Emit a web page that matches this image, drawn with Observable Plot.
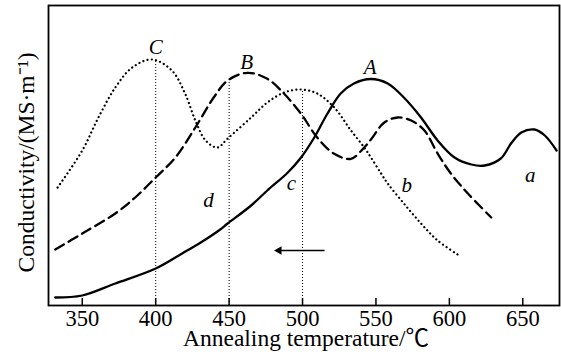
<!DOCTYPE html>
<html>
<head>
<meta charset="utf-8">
<script src="https://cdn.jsdelivr.net/npm/d3@7"></script>
<script src="https://cdn.jsdelivr.net/npm/@observablehq/plot@0.6"></script>
<style>
  html, body { margin: 0; padding: 0; background: #fff; }
</style>
</head>
<body>
<div id="chart"></div>
<script>
// Curve a (solid): temperature (°C) and conductivity (arbitrary units)
const aTemp = [331.6, 350, 372.5, 400, 418, 430.7, 443, 449, 465, 476, 490, 499, 508, 517, 526, 535, 546.6, 558, 569, 580.7, 592, 603.5, 615, 624, 635, 642, 649, 658, 665, 673];
const aVal  = [8, 10, 22, 37, 52, 63, 75, 82, 100, 115, 133, 148, 168, 192, 212, 222, 226.5, 222, 208, 188, 165, 148, 141, 140, 147, 162, 173, 176, 170, 155];

// Curve b (dashed)
const bTemp = [331.6, 350, 372.5, 386, 400, 413.4, 427, 439.5, 449, 462.5, 476, 487.5, 499, 510, 521.6, 533, 542, 546.6, 555.7, 564.8, 574, 583, 592, 601, 612.6, 628.5];
const bVal  = [56, 72, 92, 108, 128, 148, 178, 208, 225, 232.7, 226.7, 211.7, 191.7, 168, 151.7, 146.7, 158, 166, 183, 188, 185, 175, 152, 132, 112, 88];

// Curve c (dotted)
const cTemp = [333.2, 350, 361, 372.5, 384, 397.5, 411, 420, 427, 434, 442, 449, 465, 476, 487.5, 499, 510, 521.6, 533, 542, 546.6, 553.5, 558, 569, 580.7, 592, 605.7];
const cVal  = [118, 155, 188, 218, 238, 246, 235, 212, 185, 165, 158, 167, 188, 203, 213, 216, 212, 198, 175, 158, 148, 132, 122, 102, 82, 65, 51];

// Reference verticals (temperature, top value)
const vTemp = [400, 450, 500];
const vTop  = [246, 225, 216];

// Italic point labels
const labText = ["C", "B", "A", "a", "b", "c", "d"];
const labTemp = [400, 462, 546, 655, 571, 492.5, 436];
const labVal  = [258, 243, 238, 130, 120, 122, 105];

// Arrow (from, to, level)
const arrowFrom = 515, arrowTo = 482, arrowLevel = 55;

const xTicks = [350, 400, 450, 500, 550, 600, 650];
const xLabel = "Annealing temperature/℃";
const yLabel = "Conductivity/(MS·m⁻¹)";

const toRows = (t, v) => t.map((x, i) => ({x, y: v[i]}));
const A = toRows(aTemp, aVal), B = toRows(bTemp, bVal), Cc = toRows(cTemp, cVal);
const V = vTemp.map((x, i) => ({x, top: vTop[i]}));
const L = labText.map((t, i) => ({t, x: labTemp[i], y: labVal[i]}));

const FONT = "'Liberation Serif', 'Times New Roman', 'Noto Sans CJK SC', serif";

const chart = Plot.plot({
  width: 561,
  height: 361,
  marginLeft: 48,
  marginRight: 2,
  marginTop: 5,
  marginBottom: 56,
  style: {fontFamily: FONT, background: "#fff", color: "#000"},
  x: {domain: [327, 675]},
  y: {domain: [0, 300], axis: null},
  marks: [
    Plot.ruleX(V, {x: "x", y1: 0, y2: "top", stroke: "#000", strokeWidth: 1, strokeDasharray: "1,2"}),
    Plot.line(Cc, {x: "x", y: "y", curve: "catmull-rom", stroke: "#000", strokeWidth: 2.2, strokeDasharray: "0.1,4.2", strokeLinecap: "round"}),
    Plot.line(B, {x: "x", y: "y", curve: "catmull-rom", stroke: "#000", strokeWidth: 2.3, strokeDasharray: "10,5.5"}),
    Plot.line(A, {x: "x", y: "y", curve: "catmull-rom", stroke: "#000", strokeWidth: 2.3}),
    Plot.link([{x1: arrowFrom, x2: arrowTo + 3, y: arrowLevel}], {x1: "x1", x2: "x2", y1: "y", y2: "y", stroke: "#000", strokeWidth: 1.4}),
    Plot.dot([{x: arrowTo + 2, y: arrowLevel}], {x: "x", y: "y", symbol: "triangle", rotate: -90, r: 3.2, fill: "#000", stroke: "none"}),
    Plot.text(L, {x: "x", y: "y", text: "t", fontStyle: "italic", fontSize: 21, fill: "#000"}),
    Plot.ruleX(xTicks, {x: d => d, y1: 0, y2: 7, stroke: "#000", strokeWidth: 1.5}),
    Plot.frame({stroke: "#000", strokeWidth: 1.8}),
    Plot.axisX(xTicks, {tickSize: 0, tickPadding: 5, fontSize: 22.5, label: null, fill: "#000"}),
    Plot.text([xLabel], {frameAnchor: "bottom", lineAnchor: "middle", textAnchor: "middle", dx: 2, dy: 32.5, fontSize: 23.5, fill: "#000"}),
    Plot.text([yLabel], {frameAnchor: "left", lineAnchor: "middle", textAnchor: "middle", dx: -22, dy: 7, rotate: -90, fontSize: 23.5, fill: "#000"})
  ]
});
document.getElementById("chart").appendChild(chart);
</script>
</body>
</html>
